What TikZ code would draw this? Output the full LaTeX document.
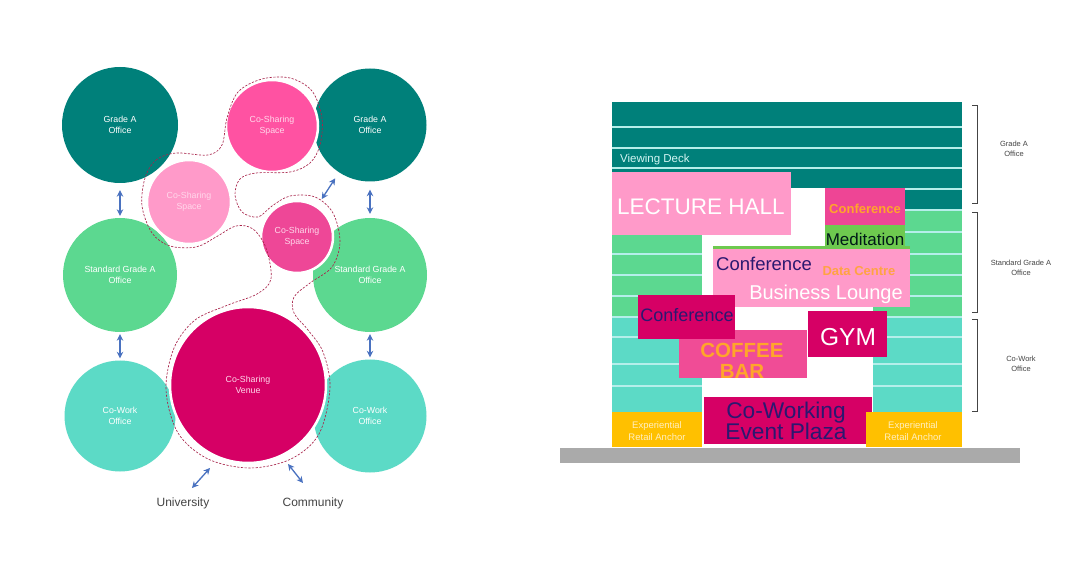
\documentclass[tikz,border=0pt]{standalone}
\usepackage{fontspec}
\setmainfont{Liberation Sans}
\usetikzlibrary{arrows.meta}
\definecolor{teal1}{HTML}{00807A}
\definecolor{sgreen}{HTML}{5CD890}
\definecolor{aqua}{HTML}{5CDAC6}
\definecolor{csA}{HTML}{FF52A2}
\definecolor{csB}{HTML}{FF9AC9}
\definecolor{csC}{HTML}{EE4797}
\definecolor{venue}{HTML}{D60065}
\definecolor{arrowblue}{HTML}{4A72C0}
\definecolor{dashred}{HTML}{A8244A}
\definecolor{floorline}{HTML}{B5EEEA}
\definecolor{medgreen}{HTML}{6EC94F}
\definecolor{confpink}{HTML}{EE4595}
\definecolor{coffee}{HTML}{F04C96}
\definecolor{orangeT}{HTML}{FFA52A}
\definecolor{navy}{HTML}{2B1870}
\definecolor{yel}{HTML}{FFC000}
\definecolor{ground}{HTML}{AAAAAA}
\definecolor{labelgray}{HTML}{444444}
\definecolor{csText}{HTML}{FFD8EB}
\tikzset{
  office/.style={circle, inner sep=0pt, text=white, align=center,
    font=\fontsize{8.8}{11}\selectfont},
  cospace/.style={circle, inner sep=0pt, text=csText, align=center, draw=white, line width=2.5pt,
    font=\fontsize{8.8}{11}\selectfont},
  biarrow/.style={arrowblue, line width=1.3pt,
    {Stealth[length=6.5pt,width=6.5pt]}-{Stealth[length=6.5pt,width=6.5pt]}},
  dashblob/.style={draw=dashred, dash pattern=on 2.2pt off 1.5pt, line width=0.65pt},
  floor/.style={floorline, line width=1.4pt},
  roomtxt/.style={inner sep=0pt, anchor=base},
  sidelbl/.style={inner sep=0pt, text=labelgray, align=center, font=\fontsize{7.5}{9.5}\selectfont},
  bracket/.style={draw=labelgray, line width=0.6pt}
}
\begin{document}
\begin{tikzpicture}[x=1pt,y=-1pt]
\useasboundingbox (0,0) rectangle (1080,564);
\fill[white] (0,0) rectangle (1080,564);

% ---------------- left bubble diagram ----------------
\node[office, fill=teal1, minimum size=116pt] (gaL) at (120,125) {Grade A\\Office};
\node[office, fill=teal1, minimum size=113pt] (gaR) at (370,125) {Grade A\\Office};
\node[office, fill=sgreen, minimum size=114pt] (sgL) at (120,275) {Standard Grade A\\Office};
\node[office, fill=sgreen, minimum size=114pt] (sgR) at (370,275) {Standard Grade A\\Office};
\node[office, fill=aqua, minimum size=111pt] (coL) at (120,416) {Co-Work\\Office};
\node[office, fill=aqua, minimum size=113pt] (coR) at (370,416) {Co-Work\\Office};

\node[cospace, fill=csA, minimum size=92pt] (csTop) at (272,126) {Co-Sharing\\Space};
\node[cospace, fill=csB, minimum size=84pt] (csLeft) at (189,202) {Co-Sharing\\Space};
\node[cospace, fill=csC, minimum size=72pt] (csSmall) at (297,237) {Co-Sharing\\Space};
\node[cospace, fill=venue, minimum size=156pt] (venue) at (248,385) {Co-Sharing\\Venue};

\draw[dashblob] plot[smooth cycle, tension=0.55] coordinates {
  (145,178) (156,160) (176,153) (208,155) (222,145) (227,118) (238,92)
  (262,79) (290,78) (312,91) (322,118) (320,145) (310,163) (290,172)
  (256,173) (240,179) (235,195) (242,212) (258,217) (272,206) (290,196)
  (315,197) (333,213) (340,242) (332,267) (310,283) (294,297) (294,313)
  (308,330) (323,352) (330,388) (319,434) (291,459) (250,468) (208,459)
  (178,433) (166,390) (174,348) (195,320) (228,305) (257,294) (271,279)
  (266,248) (253,229) (236,226) (216,237) (196,247) (170,246) (152,233) (142,206)};

\draw[biarrow, shorten <=7pt, shorten >=2pt] (gaL) -- (sgL);
\draw[biarrow, shorten <=2pt, shorten >=2pt] (sgL) -- (coL);
\draw[biarrow, shorten <=8pt, shorten >=4pt] (gaR) -- (sgR);
\draw[biarrow, shorten <=2pt, shorten >=2pt] (sgR) -- (coR);
\draw[biarrow, shorten <=8pt, shorten >=7pt] (csSmall) -- (gaR);

\node[inner sep=0pt, anchor=base, text=labelgray, font=\fontsize{12}{14}\selectfont] (uni) at (183,506) {University};
\node[inner sep=0pt, anchor=base, text=labelgray, font=\fontsize{12}{14}\selectfont] (comm) at (313,506) {Community};
\coordinate (uA) at (192,488);
\coordinate (uB) at (210,468);
\coordinate (cA) at (288,464);
\coordinate (cB) at (303,483);
\draw[biarrow] (uA) -- (uB);
\draw[biarrow] (cA) -- (cB);

% ---------------- right section ----------------
\fill[teal1] (612,102) rectangle (962,210);
\fill[sgreen] (612,210) rectangle (962,317);
\fill[aqua] (612,317) rectangle (962,412);
\foreach \yy in {127,148,168,189,210,232,254,275,296,317,337,364,386}
  \draw[floor] (612,\yy) -- (962,\yy);
% atrium voids
\fill[white] (791,188) rectangle (905,248);
\fill[white] (702,234) rectangle (873,412);
\fill[white] (702,412) rectangle (866,447);

\node[roomtxt, anchor=base west, text=floorline!60!white, font=\fontsize{11.5}{13}\selectfont] (vdeck) at (620,163) {Viewing Deck};

\fill[csB] (612,172) rectangle (791,235);
\node[roomtxt, text=white, font=\fontsize{22.5}{26}\selectfont] (lecture) at (701,215) {LECTURE HALL};

\fill[confpink] (825,188) rectangle (905,225);
\node[roomtxt, text=orangeT, font=\fontsize{13}{15}\selectfont\bfseries] (conf1) at (865,214) {Conference};

\fill[medgreen] (825,225) rectangle (905,249);
\node[roomtxt, text=black!80!teal1, font=\fontsize{17}{19}\selectfont] (medit) at (865,246) {Meditation};

\fill[medgreen] (713,246) rectangle (910,249);
\fill[csB] (713,249) rectangle (910,307);
\node[roomtxt, text=navy, font=\fontsize{18.5}{21}\selectfont] (conf2) at (764,271) {Conference};
\node[roomtxt, text=orangeT!85!csB, font=\fontsize{13}{15}\selectfont\bfseries] (datac) at (859,276) {Data Centre};
\node[roomtxt, text=white, font=\fontsize{20}{23}\selectfont] (lounge) at (826,300) {Business Lounge};

\fill[coffee] (679,330) rectangle (807,378);
\fill[venue] (638,295) rectangle (735,339);
\node[roomtxt, text=navy, font=\fontsize{18}{21}\selectfont] (conf3) at (687,322) {Conference};
\node[roomtxt, text=orangeT, font=\fontsize{20.5}{18}\selectfont\bfseries] (cof1) at (742,358) {COFFEE};
\node[roomtxt, text=orangeT, font=\fontsize{20.5}{18}\selectfont\bfseries] (cof2) at (742,378) {BAR};

\fill[venue] (808,311) rectangle (887,357);
\node[roomtxt, text=white, font=\fontsize{24.5}{28}\selectfont] (gym) at (848,345) {GYM};

\fill[venue] (704,397) rectangle (872,444);
\node[roomtxt, text=navy, font=\fontsize{22.7}{20}\selectfont] (plaza1) at (786,418) {Co-Working};
\node[roomtxt, text=navy, font=\fontsize{22.7}{20}\selectfont] (plaza2) at (786,439) {Event Plaza};

\fill[yel] (612,412) rectangle (702,447);
\fill[yel] (866,412) rectangle (962,447);
\node[roomtxt, text=yel!25!white, font=\fontsize{9.5}{12}\selectfont] (ex1a) at (657,428) {Experiential};
\node[roomtxt, text=yel!25!white, font=\fontsize{9.5}{12}\selectfont] (ex1b) at (657,440) {Retail Anchor};
\node[roomtxt, text=yel!25!white, font=\fontsize{9.5}{12}\selectfont] (ex2a) at (913,428) {Experiential};
\node[roomtxt, text=yel!25!white, font=\fontsize{9.5}{12}\selectfont] (ex2b) at (913,440) {Retail Anchor};

\fill[ground] (560,448) rectangle (1020,463);

% brackets
\draw[bracket] (972,105) -- (977,105) -- (977,203) -- (972,203);
\draw[bracket] (972,212) -- (977,212) -- (977,312) -- (972,312);
\draw[bracket] (972,319) -- (977,319) -- (977,411) -- (972,411);
\node[sidelbl] (lblA) at (1014,149) {Grade A\\Office};
\node[sidelbl] (lblB) at (1021,268) {Standard Grade A\\Office};
\node[sidelbl] (lblC) at (1021,364) {Co-Work\\Office};
\end{tikzpicture}
\end{document}
